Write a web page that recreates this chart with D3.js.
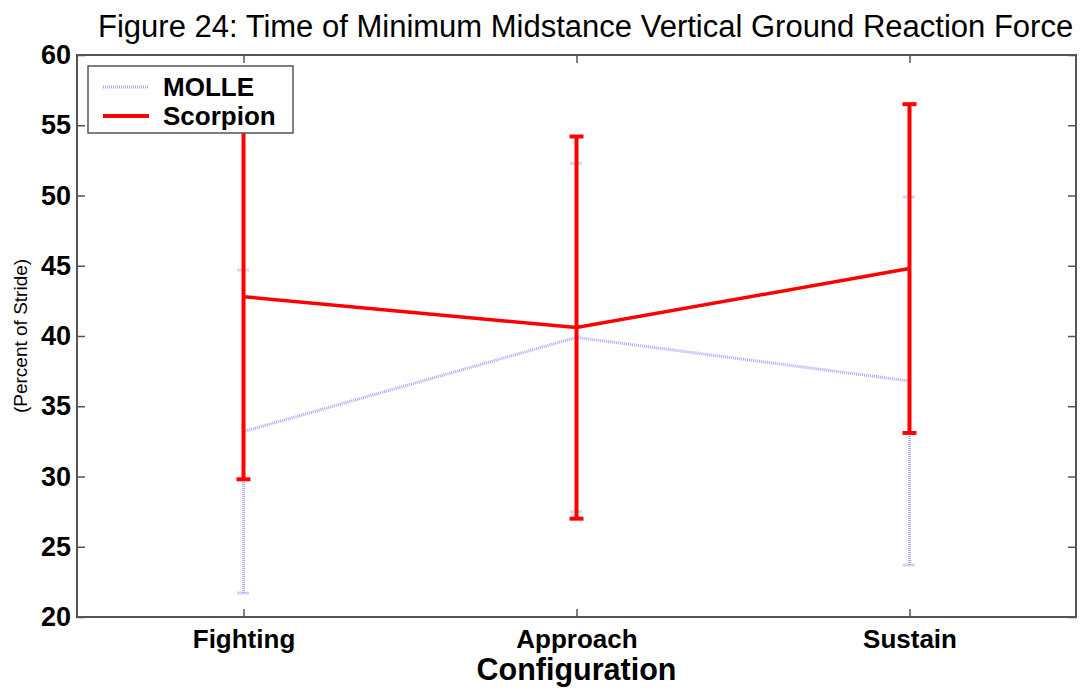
<!DOCTYPE html>
<html>
<head>
<meta charset="utf-8">
<script src="https://cdn.jsdelivr.net/npm/d3@7"></script>
<style>
  body { margin: 0; background: #fff; }
  text { font-family: "Liberation Sans", Arial, sans-serif; }
</style>
</head>
<body>
<div id="chart"></div>
<script>
var configs = ["Fighting", "Approach", "Sustain"];
var molleMean = [33.2, 39.9, 36.8];
var molleErr = [11.5, 12.4, 13.1];
var scorpMean = [42.8, 40.6, 44.8];
var scorpErr = [13.0, 13.6, 11.7];
var yTicks = [20, 25, 30, 35, 40, 45, 50, 55, 60];

var W = 1086, H = 691;
var margin = {top: 55, right: 10, bottom: 74, left: 77};
var width = W - margin.left - margin.right;
var height = H - margin.top - margin.bottom;

var svg = d3.select('#chart')
  .append('svg')
    .attr('width', W)
    .attr('height', H);

var g = svg.append('g')
    .attr('transform', 'translate(' + margin.left + ',' + margin.top + ')');

var x = d3.scaleLinear().domain([0.5, 3.5]).range([0, width]);
var y = d3.scaleLinear().domain([20, 60]).range([height, 0]);

// title
svg.append('text')
  .attr('x', 98).attr('y', 37)
  .style('font-size', '31px')
  .text('Figure 24: Time of Minimum Midstance Vertical Ground Reaction Force');

// axes (ticks pointing inward, mirrored on top/right)
var frameColor = '#555';
var xPos = configs.map(function(d, i) { return i + 1; });

g.append('g')
  .attr('transform', 'translate(0,' + height + ')')
  .call(d3.axisBottom(x).tickValues(xPos).tickSize(-8).tickPadding(13)
    .tickFormat(function(d) { return configs[d - 1]; }))
  .call(function(a) {
    a.select('.domain').remove();
    a.selectAll('line').attr('stroke', frameColor).attr('stroke-width', 1.5);
    a.selectAll('text').attr('fill', '#000').style('font-size', '26px').style('font-weight', 'bold')
      .attr('font-family', null);
  });

g.append('g')
  .call(d3.axisTop(x).tickValues(xPos).tickSize(-8).tickFormat(''))
  .call(function(a) {
    a.select('.domain').remove();
    a.selectAll('line').attr('stroke', frameColor).attr('stroke-width', 1.5);
  });

g.append('g')
  .call(d3.axisLeft(y).tickValues(yTicks).tickSize(-8).tickPadding(6))
  .call(function(a) {
    a.select('.domain').remove();
    a.selectAll('line').attr('stroke', frameColor).attr('stroke-width', 1.5);
    a.selectAll('text').attr('fill', '#000').style('font-size', '27px').style('font-weight', 'bold')
      .attr('font-family', null);
  });

g.append('g')
  .attr('transform', 'translate(' + width + ',0)')
  .call(d3.axisRight(y).tickValues(yTicks).tickSize(-8).tickFormat(''))
  .call(function(a) {
    a.select('.domain').remove();
    a.selectAll('line').attr('stroke', frameColor).attr('stroke-width', 1.5);
  });

// MOLLE series
var molleColor = '#a8a8ff';
var molleDash = '1,1';
var molle = g.append('g');
molle.append('path')
  .datum(molleMean)
  .attr('fill', 'none')
  .attr('stroke', molleColor)
  .attr('stroke-width', 3)
  .attr('stroke-dasharray', molleDash)
  .attr('d', d3.line().x(function(d, i) { return x(i + 1); }).y(function(d) { return y(d); }));
molleMean.forEach(function(m, i) {
  var cx = x(i + 1), lo = y(m - molleErr[i]), hi = y(m + molleErr[i]);
  molle.append('line').attr('x1', cx).attr('x2', cx).attr('y1', lo).attr('y2', hi)
    .attr('stroke', molleColor).attr('stroke-width', 3).attr('stroke-dasharray', molleDash);
  [lo, hi].forEach(function(yy) {
    molle.append('line').attr('x1', cx - 6).attr('x2', cx + 6).attr('y1', yy).attr('y2', yy)
      .attr('stroke', molleColor).attr('stroke-width', 3).attr('stroke-dasharray', molleDash);
  });
});

// Scorpion series
var scorpColor = '#ff0000';
var scorp = g.append('g');
scorpMean.forEach(function(m, i) {
  var cx = x(i + 1), lo = y(m - scorpErr[i]), hi = y(m + scorpErr[i]);
  scorp.append('line').attr('x1', cx).attr('x2', cx).attr('y1', lo).attr('y2', hi)
    .attr('stroke', scorpColor).attr('stroke-width', 4);
  [lo, hi].forEach(function(yy) {
    scorp.append('line').attr('x1', cx - 7).attr('x2', cx + 7).attr('y1', yy).attr('y2', yy)
      .attr('stroke', scorpColor).attr('stroke-width', 4);
  });
});
scorp.append('path')
  .datum(scorpMean)
  .attr('fill', 'none')
  .attr('stroke', scorpColor)
  .attr('stroke-width', 3.5)
  .attr('d', d3.line().x(function(d, i) { return x(i + 1); }).y(function(d) { return y(d); }));

// frame
g.append('rect')
  .attr('width', width).attr('height', height)
  .attr('fill', 'none').attr('stroke', frameColor).attr('stroke-width', 2);

// legend
var leg = svg.append('g').attr('transform', 'translate(88,66)');
leg.append('rect').attr('width', 205).attr('height', 67)
  .attr('fill', '#fff').attr('stroke', frameColor).attr('stroke-width', 1.5);
leg.append('line').attr('x1', 15).attr('x2', 61).attr('y1', 21).attr('y2', 21)
  .attr('stroke', molleColor).attr('stroke-width', 3).attr('stroke-dasharray', molleDash);
leg.append('line').attr('x1', 15).attr('x2', 61).attr('y1', 50).attr('y2', 50)
  .attr('stroke', scorpColor).attr('stroke-width', 4);
leg.append('text').attr('x', 75).attr('y', 30).style('font-size', '26px').style('font-weight', 'bold').text('MOLLE');
leg.append('text').attr('x', 75).attr('y', 59).style('font-size', '26px').style('font-weight', 'bold').text('Scorpion');

// axis titles
svg.append('text')
  .attr('transform', 'translate(' + 27 + ',' + (margin.top + height / 2) + ') rotate(-90)')
  .style('text-anchor', 'middle')
  .style('font-size', '19px')
  .text('(Percent of Stride)');

svg.append('text')
  .attr('x', margin.left + x(2)).attr('y', 680)
  .style('text-anchor', 'middle')
  .style('font-size', '30.5px')
  .style('font-weight', 'bold')
  .text('Configuration');
</script>
</body>
</html>
